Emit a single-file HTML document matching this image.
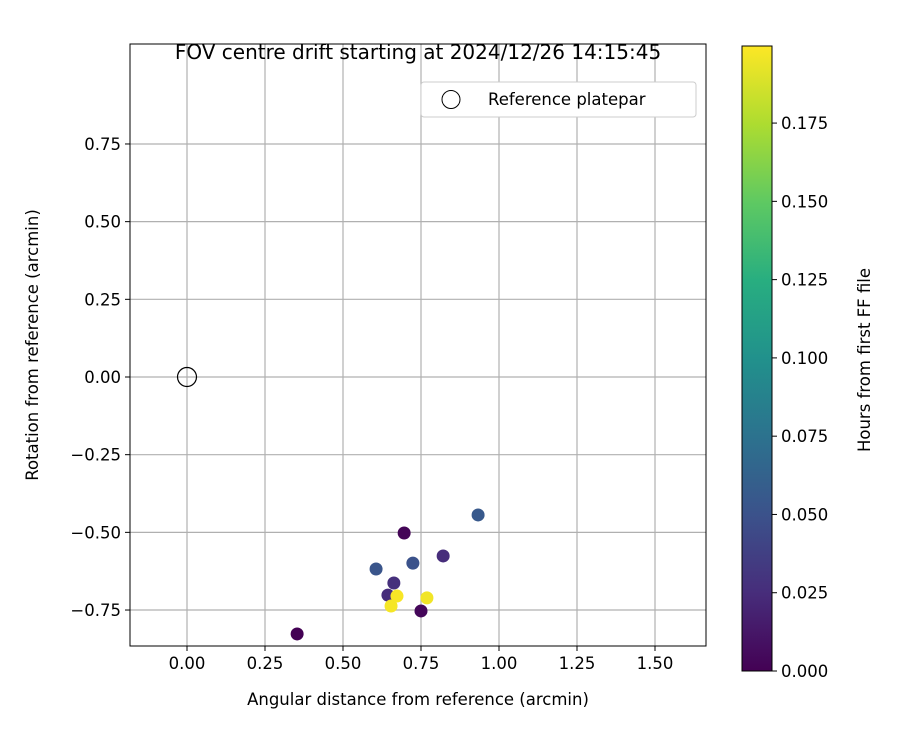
<!DOCTYPE html>
<html><head><meta charset="utf-8"><style>
body{margin:0;background:#fff}
svg text{font-family:"DejaVu Sans","Liberation Sans",sans-serif;fill:#000}
</style></head><body>
<svg id="c" width="900" height="750" xmlns="http://www.w3.org/2000/svg">
<defs><linearGradient id="vg" x1="0" y1="1" x2="0" y2="0">
<stop offset="0" stop-color="#440154"/><stop offset="0.125" stop-color="#472d7b"/><stop offset="0.25" stop-color="#3b528b"/><stop offset="0.375" stop-color="#2c728e"/><stop offset="0.5" stop-color="#21918c"/><stop offset="0.625" stop-color="#28ae80"/><stop offset="0.75" stop-color="#5ec962"/><stop offset="0.875" stop-color="#addc30"/><stop offset="1" stop-color="#fde725"/></linearGradient></defs>
<g id="grid"></g>
<g id="pts"></g>
<rect x="130" y="44" width="576" height="602" fill="none" stroke="#000" stroke-width="1"/>
<g id="ticks"></g>
<text x="418" y="59" style="font-size:20px" text-anchor="middle">FOV centre drift starting at 2024/12/26 14:15:45</text>
<text x="418" y="705" style="font-size:16.5px" text-anchor="middle">Angular distance from reference (arcmin)</text>
<text transform="translate(38,345) rotate(-90)" style="font-size:16.5px" text-anchor="middle">Rotation from reference (arcmin)</text>
<g>
<rect x="421" y="82" width="275" height="35" rx="3" fill="#fff" stroke="#ccc"/>
<circle cx="451" cy="99.5" r="9" fill="none" stroke="#000"/>
<text x="488" y="105" style="font-size:16.5px">Reference platepar</text>
</g>
<rect x="742" y="46" width="30" height="625" fill="url(#vg)" stroke="#000"/>
<g id="cbt"></g>
<text transform="translate(870,360) rotate(-90)" style="font-size:16.5px" text-anchor="middle">Hours from first FF file</text>
</svg>
<script>
const xs=[0.353,0.696,0.750,0.821,0.663,0.644,0.606,0.724,0.933,0.673,0.654,0.769];
const ys=[-0.827,-0.502,-0.753,-0.576,-0.663,-0.702,-0.618,-0.599,-0.444,-0.705,-0.737,-0.711];
const hrs=[0.000,0.002,0.003,0.025,0.027,0.025,0.052,0.050,0.055,0.198,0.197,0.196];
const xTicks=["0.00","0.25","0.50","0.75","1.00","1.25","1.50"];
const yTicks=["-0.75","-0.50","-0.25","0.00","0.25","0.50","0.75"];
const cTicks=["0.000","0.025","0.050","0.075","0.100","0.125","0.150","0.175"];
const X=v=>187+v*312, Y=v=>377-v*310.7, C=v=>671-v*3131;
const vir=["#440154","#472d7b","#3b528b","#2c728e","#21918c","#28ae80","#5ec962","#addc30","#fde725"];
function col(h){let t=Math.max(0,Math.min(1,h/0.1996))*8,i=Math.min(7,Math.floor(t)),f=t-i;
const a=vir[i],b=vir[i+1],p=(s,k)=>parseInt(s.substr(k,2),16);
return "rgb("+[1,3,5].map(k=>Math.round(p(a,k)+(p(b,k)-p(a,k))*f)).join(",")+")";}
const NS="http://www.w3.org/2000/svg";
function mk(par,tag,at,txt){const e=document.createElementNS(NS,tag);for(const k in at)e.setAttribute(k,at[k]);if(txt)e.textContent=txt;document.getElementById(par).appendChild(e);return e;}
const TS="font-size:16.5px";
xTicks.forEach(t=>{const x=X(+t);
let g=mk("grid","line",{x1:x,x2:x,y1:44,y2:646,stroke:"#b0b0b0","stroke-width":1.2});

let k=mk("ticks","line",{x1:x,x2:x,y1:646,y2:651,stroke:"#000"});

let l=mk("ticks","text",{x:x,y:669,style:TS,"text-anchor":"middle"},t);
});
yTicks.forEach(t=>{const y=Y(+t);
let g=mk("grid","line",{x1:130,x2:706,y1:y,y2:y,stroke:"#b0b0b0","stroke-width":1.2});

let k=mk("ticks","line",{x1:125,x2:130,y1:y,y2:y,stroke:"#000"});

let l=mk("ticks","text",{x:121,y:y+6,style:TS,"text-anchor":"end"},t.replace("-","\u2212"));
});
cTicks.forEach(t=>{const y=C(+t);
let k=mk("cbt","line",{x1:772,x2:777,y1:y,y2:y,stroke:"#000"});

let l=mk("cbt","text",{x:781,y:y+6,style:TS},t);
});
xs.forEach((v,i)=>{let c=mk("pts","circle",{cx:X(v),cy:Y(ys[i]),r:6.5,fill:col(hrs[i])});
});
let r=mk("pts","circle",{cx:X(0),cy:Y(0),r:9.5,fill:"none",stroke:"#000","stroke-width":1.2});

</script>
</body></html>
